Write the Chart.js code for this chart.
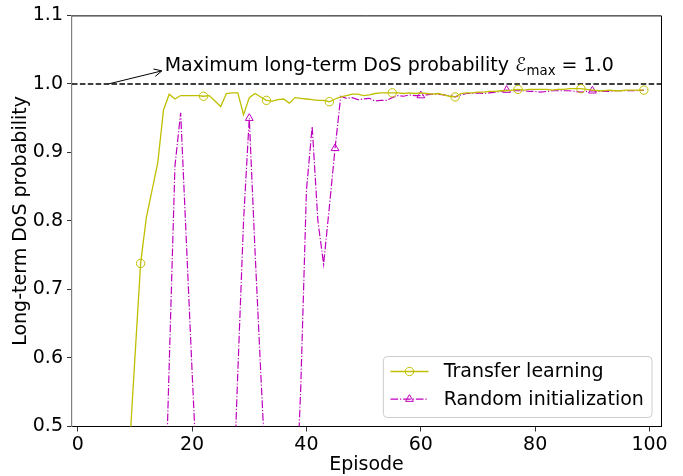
<!DOCTYPE html>
<html>
<head>
<meta charset="utf-8">
<title>Long-term DoS probability</title>
<script src="https://cdn.jsdelivr.net/npm/chart.js"></script>
<style>
  html, body { margin: 0; padding: 0; background: white; }
  #wrap { width: 683px; height: 476px; }
</style>
</head>
<body>
<div id="wrap"><canvas id="chart" width="683" height="476"></canvas></div>
<script>
// episodes 0..99
const episodes = Array.from({length: 100}, (_, i) => i);

// values; anything under 0.5 is clipped in the original
const transferLearning = [
  0.20, 0.22, 0.25, 0.24, 0.28, 0.30, 0.33, 0.36, 0.40, 0.46,
  0.600, 0.738, 0.805, 0.845, 0.885, 0.962, 0.985, 0.978, 0.983, 0.983,
  0.983, 0.983, 0.982, 0.983, 0.975, 0.967, 0.986, 0.987, 0.987, 0.955,
  0.980, 0.986, 0.981, 0.976, 0.975, 0.977, 0.978, 0.972, 0.980, 0.979,
  0.978, 0.977, 0.976, 0.976, 0.974, 0.978, 0.981, 0.983, 0.985, 0.985,
  0.983, 0.984, 0.986, 0.987, 0.987, 0.987, 0.987, 0.986, 0.987, 0.986,
  0.987, 0.986, 0.985, 0.986, 0.984, 0.982, 0.981, 0.986, 0.987, 0.987,
  0.988, 0.988, 0.989, 0.989, 0.990, 0.990, 0.991, 0.992, 0.991, 0.992,
  0.992, 0.992, 0.992, 0.991, 0.992, 0.992, 0.993, 0.993, 0.993, 0.992,
  0.991, 0.990, 0.990, 0.991, 0.990, 0.990, 0.991, 0.991, 0.991, 0.991
];

const randomInit = [
  0.20, 0.22, 0.21, 0.24, 0.23, 0.25, 0.24, 0.26, 0.25, 0.27,
  0.26, 0.28, 0.27, 0.29, 0.28, 0.30, 0.59, 0.88, 0.958, 0.77,
  0.58, 0.40, 0.30, 0.26, 0.28, 0.27, 0.30, 0.35, 0.58, 0.80,
  0.950, 0.757, 0.58, 0.41, 0.30, 0.28, 0.29, 0.30, 0.35, 0.556,
  0.845, 0.938, 0.800, 0.737, 0.820, 0.906, 0.982, 0.979, 0.980, 0.977,
  0.978, 0.979, 0.975, 0.976, 0.976, 0.980, 0.983, 0.982, 0.984, 0.983,
  0.983, 0.984, 0.985, 0.985, 0.984, 0.983, 0.981, 0.984, 0.986, 0.986,
  0.987, 0.986, 0.987, 0.988, 0.989, 0.991, 0.990, 0.990, 0.990, 0.989,
  0.989, 0.988, 0.989, 0.990, 0.990, 0.990, 0.990, 0.989, 0.988, 0.989,
  0.990, 0.989, 0.989, 0.989, 0.990, 0.990, 0.990, 0.990, 0.990, 0.991
];

const xTicks = [0, 20, 40, 60, 80, 100];
const yTicks = [0.5, 0.6, 0.7, 0.8, 0.9, 1.0, 1.1];
const eMax = 1.0;

const FONT = '"DejaVu Sans", "Liberation Sans", sans-serif';
const FS = 19;
const olive = '#bfbf00';
const magenta = '#bf00bf';

Chart.defaults.font.family = FONT;
Chart.defaults.font.size = FS;
Chart.defaults.color = '#000';

function drawMarker(ctx, style, x, y, r) {
  ctx.beginPath();
  if (style === 'triangle') {
    let rad = 0;
    ctx.moveTo(x + Math.sin(rad) * r, y - Math.cos(rad) * r);
    rad += 2 * Math.PI / 3;
    ctx.lineTo(x + Math.sin(rad) * r, y - Math.cos(rad) * r);
    rad += 2 * Math.PI / 3;
    ctx.lineTo(x + Math.sin(rad) * r, y - Math.cos(rad) * r);
    ctx.closePath();
  } else {
    ctx.arc(x, y, r, 0, Math.PI * 2);
  }
  ctx.stroke();
}

const extras = {
  id: 'extras',
  beforeDatasetsDraw(chart) {
    const {ctx, chartArea: a, scales: {y}} = chart;
    const py = y.getPixelForValue(eMax);
    ctx.save();
    ctx.strokeStyle = '#000';
    ctx.lineWidth = 1.5;
    ctx.setLineDash([5.5, 2.4]);
    ctx.beginPath();
    ctx.moveTo(a.left, py);
    ctx.lineTo(a.right, py);
    ctx.stroke();
    ctx.restore();
  },
  afterDatasetsDraw(chart) {
    const {ctx, chartArea: a, scales: {x, y}} = chart;
    ctx.save();

    // top and right spines
    ctx.strokeStyle = '#000';
    ctx.lineWidth = 1;
    ctx.beginPath();
    ctx.moveTo(a.left, a.top + 0.5);
    ctx.lineTo(a.right + 0.5, a.top + 0.5);
    ctx.lineTo(a.right + 0.5, a.bottom);
    ctx.stroke();

    // annotation arrow pointing at the text
    const x0 = x.getPixelForValue(5.4), y0 = y.getPixelForValue(eMax);
    const x1 = x.getPixelForValue(14.7), y1 = y.getPixelForValue(1.019);
    ctx.lineWidth = 1;
    ctx.beginPath();
    ctx.moveTo(x0, y0);
    ctx.lineTo(x1, y1);
    const ang = Math.atan2(y1 - y0, x1 - x0);
    const hl = 7.6, hw = 3.8;
    const bx = x1 - Math.cos(ang) * hl, by = y1 - Math.sin(ang) * hl;
    ctx.moveTo(bx - Math.sin(ang) * hw, by + Math.cos(ang) * hw);
    ctx.lineTo(x1, y1);
    ctx.lineTo(bx + Math.sin(ang) * hw, by - Math.cos(ang) * hw);
    ctx.stroke();

    // annotation text
    let tx = x.getPixelForValue(15.2);
    const ty = y.getPixelForValue(1.0195);
    ctx.fillStyle = '#000';
    ctx.textBaseline = 'alphabetic';
    ctx.textAlign = 'left';
    const parts = [
      ['Maximum long-term DoS probability ', FS, 0],
      ['\u2130', FS, 0],
      ['max', FS * 0.7, 4],
      [' = 1.0', FS, 0]
    ];
    parts.forEach(([t, s, dy]) => {
      ctx.font = `${s}px ${FONT}`;
      ctx.fillText(t, tx, ty + dy);
      tx += ctx.measureText(t).width;
    });

    // legend, lower right
    const items = chart.data.datasets;
    ctx.font = `${FS}px ${FONT}`;
    const pad = 7.6, handle = 38, textPad = 15.2, rowH = 27.6, axPad = 9.5;
    const textW = Math.max(...items.map(d => ctx.measureText(d.label).width));
    const w = pad * 2 + handle + textPad + textW;
    const h = 61;
    const lx = a.right - axPad - w, ly = a.bottom - axPad - h;
    ctx.fillStyle = 'rgba(255,255,255,0.8)';
    ctx.strokeStyle = '#cccccc';
    ctx.lineWidth = 1;
    ctx.beginPath();
    ctx.roundRect(lx + 0.5, ly + 0.5, w, h, 4);
    ctx.fill();
    ctx.stroke();
    items.forEach((d, i) => {
      const cy = ly + 15.5 + i * rowH;
      const hx = lx + pad;
      ctx.strokeStyle = d.borderColor;
      ctx.lineWidth = d.borderWidth;
      ctx.setLineDash(d.borderDash || []);
      ctx.beginPath();
      ctx.moveTo(hx, cy);
      ctx.lineTo(hx + handle, cy);
      ctx.stroke();
      ctx.setLineDash([]);
      ctx.lineWidth = 1;
      drawMarker(ctx, d.pointStyle, hx + handle / 2, cy, d.markerSize);
      ctx.fillStyle = '#000';
      ctx.textBaseline = 'middle';
      ctx.font = `${FS}px ${FONT}`;
      ctx.fillText(d.label, hx + handle + textPad, cy + 1);
    });
    ctx.restore();
  }
};

new Chart(document.getElementById('chart'), {
  type: 'line',
  data: {
    datasets: [
      {
        label: 'Transfer learning',
        data: transferLearning.map((v, i) => ({x: episodes[i], y: v})),
        borderColor: olive,
        borderWidth: 1.3,
        pointStyle: 'circle',
        markerSize: 4.2,
        pointRadius: c => c.dataIndex % 11 === 0 ? 4.2 : 0,
        pointBorderColor: olive,
        pointBackgroundColor: 'rgba(0,0,0,0)',
        pointBorderWidth: 1,
        tension: 0
      },
      {
        label: 'Random initialization',
        data: randomInit.map((v, i) => ({x: episodes[i], y: v})),
        borderColor: magenta,
        borderWidth: 1.2,
        borderDash: [7.7, 1.9, 1.2, 1.9],
        pointStyle: 'triangle',
        markerSize: 4.5,
        pointRadius: c => c.dataIndex % 15 === 0 ? 4.5 : 0,
        pointBorderColor: magenta,
        pointBackgroundColor: 'rgba(0,0,0,0)',
        pointBorderWidth: 1,
        tension: 0
      }
    ]
  },
  options: {
    responsive: false,
    animation: false,
    events: [],
    devicePixelRatio: 1,
    layout: { padding: { top: 14, right: 22, left: 0, bottom: 0 } },
    plugins: {
      legend: { display: false },
      tooltip: { enabled: false }
    },
    scales: {
      x: {
        type: 'linear',
        min: -1,
        max: 102,
        afterFit: s => { s.height = 49.5; },
        afterBuildTicks: s => { s.ticks = xTicks.map(v => ({value: v})); },
        ticks: { padding: 2, color: '#000', font: { size: FS }, callback: v => String(v) },
        grid: { drawOnChartArea: false, drawTicks: true, tickLength: 5, color: '#333' },
        border: { display: true, color: '#000', width: 1 },
        title: { display: true, text: 'Episode', font: { size: FS }, padding: { top: 0, bottom: 0 } }
      },
      y: {
        min: 0.5,
        max: 1.1,
        afterFit: s => { s.width = 72; },
        afterBuildTicks: s => { s.ticks = yTicks.map(v => ({value: v})); },
        ticks: { padding: 4, color: '#000', font: { size: FS }, callback: v => v.toFixed(1) },
        grid: { drawOnChartArea: false, drawTicks: true, tickLength: 5, color: '#333' },
        border: { display: true, color: '#808080', width: 1.2 },
        title: { display: true, text: 'Long-term DoS probability', font: { size: FS }, padding: { top: 10, bottom: 0 } }
      }
    }
  },
  plugins: [extras]
});
</script>
</body>
</html>
